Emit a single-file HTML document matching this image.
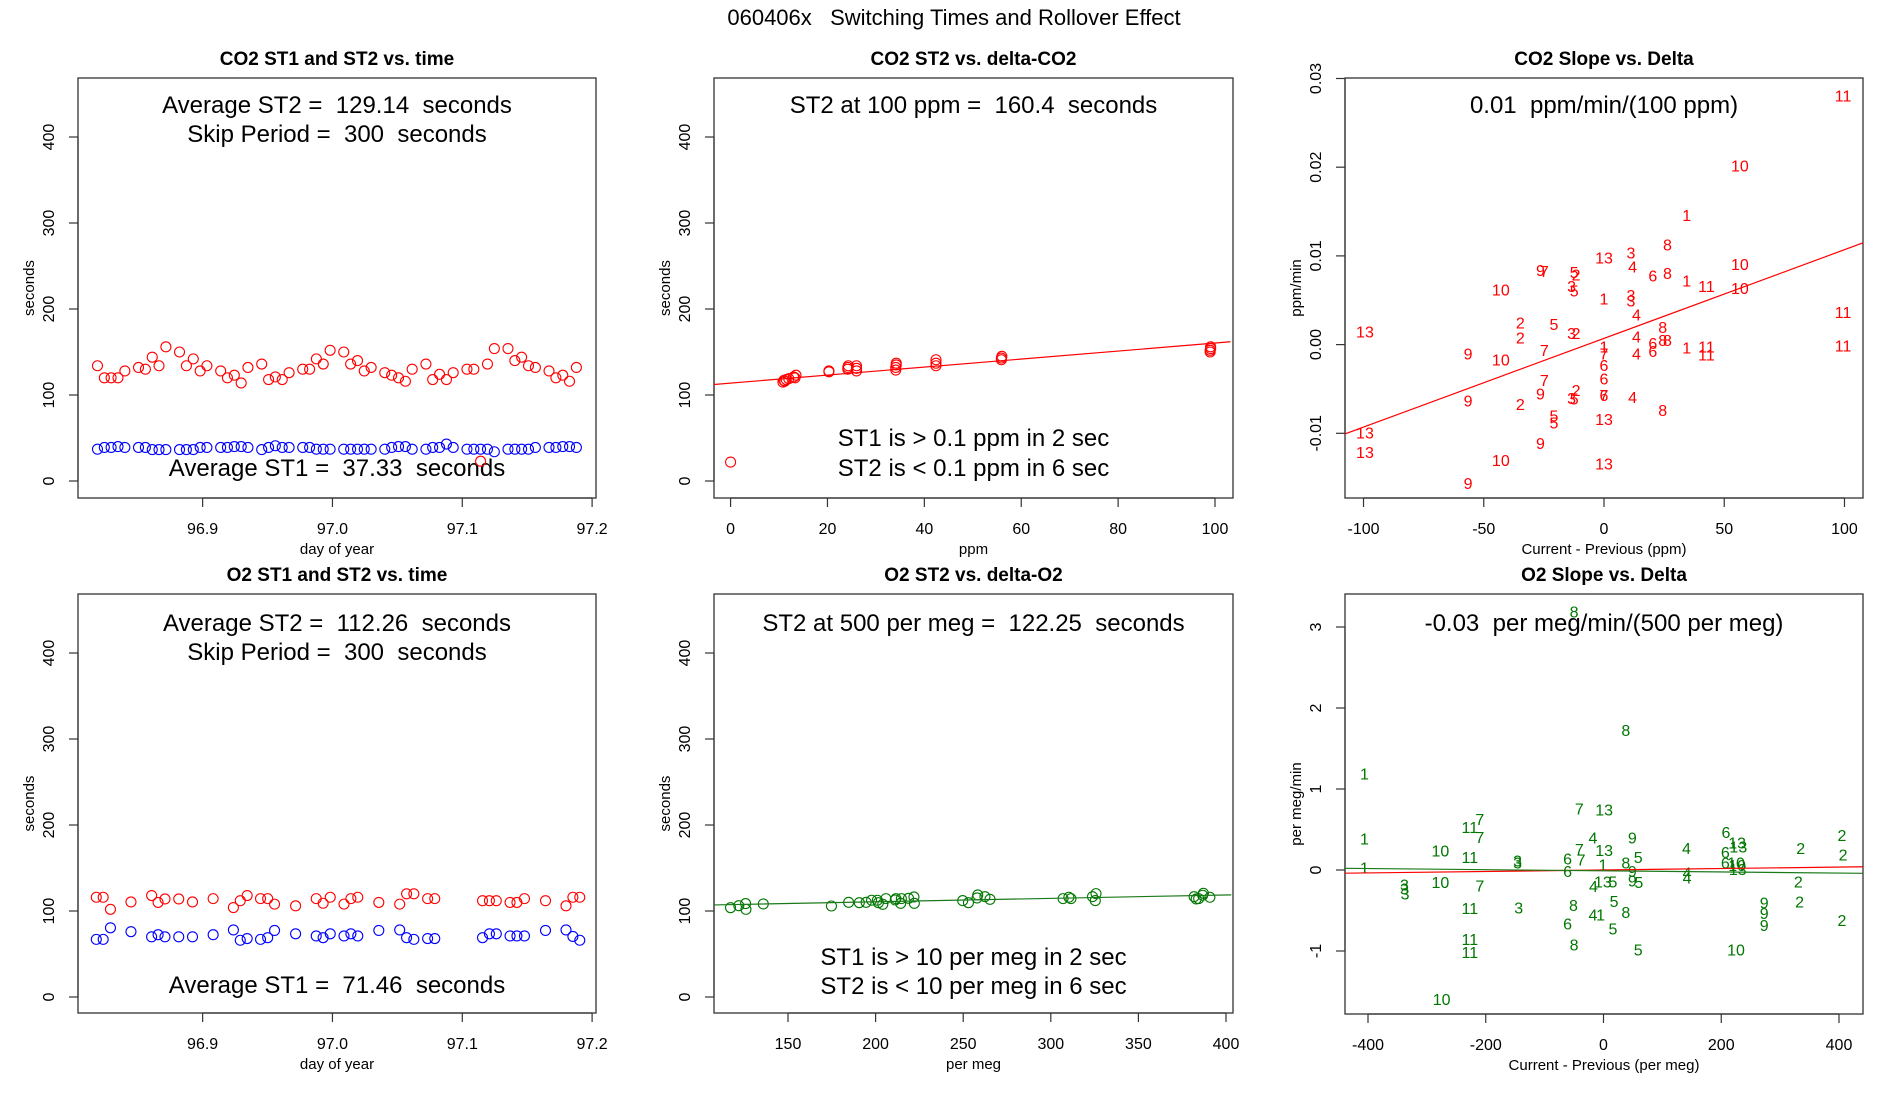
<!DOCTYPE html>
<html><head><meta charset="utf-8">
<style>
html,body{margin:0;padding:0;background:#fff;}
svg{display:block;font-family:"Liberation Sans",Arial,sans-serif;}
text{white-space:pre;}
</style></head>
<body>
<svg id="chart" width="1900" height="1100" viewBox="0 0 1900 1100" xmlns="http://www.w3.org/2000/svg">
<rect x="0" y="0" width="1900" height="1100" fill="#fff"/>
<text x="954" y="25" font-size="22" text-anchor="middle">060406x   Switching Times and Rollover Effect</text>
</svg>
<script>
// ---------- Panel 1: CO2 ST1/ST2 vs time ----------
const co2Days = [96.8190,96.8243,96.8295,96.8348,96.8401,96.8506,96.8559,96.8612,96.8664,96.8717,96.8822,96.8875,96.8928,96.8981,96.9033,96.9139,96.9191,96.9244,96.9297,96.9349,96.9455,96.9508,96.9560,96.9613,96.9666,96.9771,96.9824,96.9876,96.9929,96.9982,97.0087,97.0140,97.0193,97.0245,97.0298,97.0403,97.0456,97.0509,97.0562,97.0614,97.0720,97.0772,97.0825,97.0878,97.0930,97.1036,97.1089,97.1141,97.1194,97.1247,97.1352,97.1405,97.1457,97.1510,97.1563,97.1668,97.1721,97.1774,97.1826,97.1879];
const co2ST2 = [134,120,120,120,128,132,130,144,134,156,150,134,142,128,134,128,120,123,114,132,136,118,121,118,126,130,130,142,136,152,150,136,140,128,132,126,123,120,116,130,136,118,124,118,126,130,130,23,136,154,154,140,144,134,132,128,120,123,116,132];
const co2ST1 = [37,39,39,40,39,39,39,36.5,36.5,36.5,36.5,36.5,36.5,39,39,39,39,40,40,39,36.5,39,41,39,39,39,39,37,37,37,37,37,37,37,37,37,39,40,40,37,37,39,39,43,39,37,37,37,37,34,37,37,37,37,39,39,39,40,40,39];
// ---------- Panel 2: CO2 ST2 vs delta ----------
const co2Delta = [0,10.8,11.0,11.2,11.5,12.0,13.0,13.3,13.5,20.3,20.3,24.2,24.2,24.3,26.0,26.0,26.0,34.1,34.1,34.2,34.2,42.4,42.4,42.4,55.9,55.9,56.0,99.0,99.0,99.1,99.1];
const co2DeltaST2 = [22,115,117,116,118,119,121,120,123,127,128,130,132,134,128,131,134,129,132,135,137,134,137,141,141,143,145,150,152,154,156];
const co2LineCoef = [113.8,0.466];
// ---------- Panel 3: CO2 slope vs delta ----------
const co2SlopeLabels = ["11","10","1","8","3","13","4","9","7","5","2","6","8","10","1","11","10","3","5","10","1","3","3","4","2","5","13","8","3","2","2","4","6","8","8","1","11","1","6","7","7","4","11","11","11","9","10","6","6","7","2","9","3","5","6","7","4","9","2","8","5","5","13","13","9","13","10","13","9"];
const co2SlopeX = [99.4,56.5,34.4,26.4,11.2,0,11.9,-26.4,-24.8,-12.4,-11.6,20.3,26.4,56.5,34.4,42.6,56.5,-13.5,-12.4,-42.9,0,11.2,11.2,13.5,-34.8,-20.8,-99.4,24.4,-13.5,-11.6,-34.8,13.5,20.3,24.4,26.4,34.4,42.6,0,20.3,-24.8,0,13.5,42.6,99.4,99.4,-56.5,-42.9,0,0,-24.8,-11.6,-26.4,-13.5,-12.4,0,0,11.9,-56.5,-34.8,24.4,-20.8,-20.8,0,-99.4,-26.4,-99.4,-42.9,0,-56.5];
const co2SlopeY = [0.0281,0.0202,0.0146,0.0113,0.0104,0.0098,0.0088,0.0084,0.0083,0.0082,0.0079,0.0078,0.0081,0.0091,0.0072,0.0066,0.0064,0.0066,0.0061,0.0062,0.0052,0.0056,0.0050,0.0034,0.0025,0.0023,0.0015,0.0020,0.0013,0.0013,0.0008,0.0009,0.0002,0.0005,0.0005,-0.0003,-0.0002,-0.0002,-0.0007,-0.0006,-0.0010,-0.0010,-0.0011,-0.0001,0.0037,-0.0010,-0.0017,-0.0023,-0.0038,-0.0040,-0.0051,-0.0055,-0.0060,-0.0061,-0.0057,-0.0057,-0.0059,-0.0063,-0.0067,-0.0074,-0.0080,-0.0088,-0.0084,-0.0099,-0.0111,-0.0121,-0.0130,-0.0134,-0.0156];
const co2SlopeLine = [0.0007,0.0001];
// ---------- Panel 4: O2 ST1/ST2 vs time ----------
const o2Days = [96.8181,96.8234,96.8290,96.8448,96.8607,96.8657,96.8710,96.8816,96.8922,96.9081,96.9237,96.9290,96.9343,96.9446,96.9501,96.9554,96.9716,96.9875,96.9928,96.9983,97.0089,97.0142,97.0195,97.0357,97.0518,97.0571,97.0627,97.0733,97.0788,97.1156,97.1209,97.1262,97.1368,97.1421,97.1479,97.1641,97.1799,97.1852,97.1905];
const o2ST2 = [116,116,102,110.5,118,110,114,114,110.5,114.4,104,112,118,114.4,114.4,108,106,114.4,109,116,108,114.4,116,110,108,120,120,114.4,114.4,112,112,112,110,110,114.4,112,106,116,116];
const o2ST1 = [67,67,80.5,76,70,72.4,70,70,70,72.4,78,66,68,67,69,77.4,73.5,71,69,73.5,71,73.5,71,77.4,78,69,67,68,68,69,73.5,73.5,71,71,71,77.4,78,70.4,66];
// ---------- Panel 5: O2 ST2 vs delta ----------
const o2Delta = [117.2,121.9,125.8,126.0,135.9,174.8,184.6,190.7,194.6,197.7,201.0,201.6,204.1,205.9,211.2,211.6,214.3,214.7,218.8,221.9,222.1,249.7,253.0,257.9,258.3,262.4,265.3,307.0,310.3,311.5,323.8,325.4,325.8,381.8,383.0,384.4,386.7,387.1,390.8];
const o2DeltaST2 = [103.9,106.2,108.6,101.9,108.2,105.8,110.1,109.7,110.1,112.5,112.5,109.7,107.8,114.4,112.8,114.4,108.9,114.4,114.8,116.3,108.9,112.1,109.7,115.2,118.7,116.7,113.6,114.4,116.0,114.4,116.7,112.1,120.2,116.7,114.0,114.4,118.3,120.6,116.0];
const o2LineCoef = [102.8,0.0396];
// ---------- Panel 6: O2 slope vs delta ----------
const o2SlopeLabels = ["8","8","1","7","13","11","7","7","1","4","9","6","13","13","2","10","4","7","13","2","11","3","3","6","7","5","8","6","2","1","6","10","10","1","6","9","13","4","4","3","3","3","10","7","13","5","9","5","4","2","5","2","9","9","9","3","11","8","4","1","8","6","5","2","11","11","8","5","10","10"];
const o2SlopeX = [-50,38,-406,-41,1,-227,-210,-210,-406,-18,49,208,227,229,405,-277,141,-41,1,335,-227,-146,-146,-61,-38,59,38,207,407,-1,207,225,227,-406,-61,49,228,142,142,-338,-338,-337,-277,-210,-1,16,49,60,-17,331,18,333,273,273,273,-144,-227,-51,-18,-5,38,-61,16,405,-227,-227,-50,59,225,-275];
const o2SlopeY = [3.19,1.73,1.19,0.76,0.75,0.53,0.63,0.41,0.39,0.40,0.40,0.47,0.34,0.29,0.43,0.24,0.27,0.26,0.25,0.27,0.16,0.12,0.09,0.14,0.13,0.16,0.09,0.22,0.19,0.07,0.09,0.09,0.06,0.03,-0.01,-0.01,0.01,-0.03,-0.09,-0.18,-0.23,-0.29,-0.15,-0.19,-0.14,-0.14,-0.13,-0.15,-0.20,-0.14,-0.38,-0.39,-0.40,-0.53,-0.68,-0.46,-0.47,-0.43,-0.55,-0.55,-0.52,-0.66,-0.72,-0.62,-0.85,-1.01,-0.92,-0.98,-0.98,-1.59];
const o2RedLine = [0.0,0.00009];
const o2GreenLine = [-0.01,-0.00007];

const xTicks1 = [96.9,97.0,97.1,97.2];
const xTickLabels1 = ["96.9","97.0","97.1","97.2"];
const yTicksSec = [0,100,200,300,400];
const xTicks2 = [0,20,40,60,80,100];
const yTicks3 = [-0.01,0,0.01,0.02,0.03];
const yTickLabels3 = ["-0.01","0.00","0.01","0.02","0.03"];
const xTicks3 = [-100,-50,0,50,100];
const xTicks5 = [150,200,250,300,350,400];
const xTicks6 = [-400,-200,0,200,400];
const yTicks6 = [-1,0,1,2,3];

const NS = "http://www.w3.org/2000/svg";
const svg = document.getElementById("chart");
function mk(tag, attrs, parent, txt){
  const e = document.createElementNS(NS, tag);
  for (const k in attrs) e.setAttribute(k, attrs[k]);
  if (txt !== undefined) e.textContent = txt;
  (parent || svg).appendChild(e);
  return e;
}
function lin(d0,d1,r0,r1){ return v => r0 + (v-d0)/(d1-d0)*(r1-r0); }

function panel(cfg){
  const g = mk("g", {});
  
  
  const {L,R,T,B} = cfg;
  const sx = lin(cfg.xd[0],cfg.xd[1],cfg.xr[0],cfg.xr[1]);
  const sy = lin(cfg.yd[0],cfg.yd[1],cfg.yr[0],cfg.yr[1]);
  const t = mk("text",{x:(L+R)/2,y:T-13,"font-size":19,"font-weight":"bold","text-anchor":"middle"},g,cfg.title);
  
  
  const box = mk("rect",{x:L,y:T,width:R-L,height:B-T,fill:"none",stroke:"#333","stroke-width":1.3},g);
  
  
  const xa = mk("g",{},g);
  
  
  const xt = cfg.xt;
  mk("line",{x1:sx(xt[0]),x2:sx(xt[xt.length-1]),y1:B,y2:B,stroke:"#333","stroke-width":1.2},xa);
  xt.forEach((v,i)=>{
    const x = sx(v);
    mk("line",{x1:x,x2:x,y1:B,y2:B+9,stroke:"#333","stroke-width":1.2},xa);
    const lb = mk("text",{x:x,y:B+36,"font-size":16,"text-anchor":"middle"},xa,cfg.xtl ? cfg.xtl[i] : String(v));
    
    
  });
  if (cfg.xlab){
    const xl = mk("text",{x:(L+R)/2,y:B+56,"font-size":15,"text-anchor":"middle"},xa,cfg.xlab);
    
    
  }
  const ya = mk("g",{},g);
  
  
  const yt = cfg.yt;
  mk("line",{x1:L,x2:L,y1:sy(yt[0]),y2:sy(yt[yt.length-1]),stroke:"#333","stroke-width":1.2},ya);
  yt.forEach((v,i)=>{
    const y = sy(v);
    mk("line",{x1:L,x2:L-9,y1:y,y2:y,stroke:"#333","stroke-width":1.2},ya);
    const lb = mk("text",{x:L-24,y:y,"font-size":16,"text-anchor":"middle",transform:`rotate(-90 ${L-24} ${y})`},ya,cfg.ytl ? cfg.ytl[i] : String(v));
    
    
  });
  const yl = mk("text",{x:L-44,y:(T+B)/2,"font-size":15,"text-anchor":"middle",transform:`rotate(-90 ${L-44} ${(T+B)/2})`},ya,cfg.ylab);
  
  
  (cfg.notes||[]).forEach(n=>{
    const a = mk("text",{x:(L+R)/2,y:n[1]+8,"font-size":24,"text-anchor":"middle"},g,n[0]);
    
    
  });
  const clip = "clip-"+cfg.name;
  const cp = mk("clipPath",{id:clip},g);
  mk("rect",{x:L,y:T,width:R-L,height:B-T},cp);
  const marks = mk("g",{"clip-path":`url(#${clip})`},g);
  
  
  return {g:marks,sx,sy,L,R,T,B,xd:cfg.xd};
}
function circles(p, xs, ys, color, name){
  xs.forEach((x,i)=>{
    const c = mk("circle",{cx:p.sx(x),cy:p.sy(ys[i]),r:5,fill:"none",stroke:color,"stroke-width":1.1},p.g);
    
    
  });
}
function labels(p, xs, ys, txt, color, name){
  xs.forEach((x,i)=>{
    const t = mk("text",{x:p.sx(x),y:p.sy(ys[i])+6,"font-size":16,fill:color,"text-anchor":"middle"},p.g,txt[i]);
    
    
  });
}
function fitLine(p, coef, color, name){
  const x0 = p.xd[0], x1 = p.xd[1];
  const l = mk("line",{x1:p.sx(x0),y1:p.sy(coef[0]+coef[1]*x0),x2:p.sx(x1),y2:p.sy(coef[0]+coef[1]*x1),stroke:color,"stroke-width":1.2},p.g);
  
  
}

const p1 = panel({name:"co2-time-panel",title:"CO2 ST1 and ST2 vs. time",L:78,R:596,T:78,B:498,
  xd:[96.804,97.203],xr:[78,596],yd:[0,400],yr:[481,137],xt:xTicks1,xtl:xTickLabels1,yt:yTicksSec,
  xlab:"day of year",ylab:"seconds",
  notes:[["Average ST2 =  129.14  seconds",105],["Skip Period =  300  seconds",134],["Average ST1 =  37.33  seconds",468]]});
circles(p1, co2Days, co2ST2, "#ff0000", "st2-point");
circles(p1, co2Days, co2ST1, "#0000ff", "st1-point");
const p2 = panel({name:"co2-delta-panel",title:"CO2 ST2 vs. delta-CO2",L:714,R:1233,T:78,B:498,
  xd:[-4,103.2],xr:[711.2,1230.5],yd:[0,400],yr:[481,137],xt:xTicks2,yt:yTicksSec,
  xlab:"ppm",ylab:"seconds",
  notes:[["ST2 at 100 ppm =  160.4  seconds",105],["ST1 is > 0.1 ppm in 2 sec",438],["ST2 is < 0.1 ppm in 6 sec",468]]});
circles(p2, co2Delta, co2DeltaST2, "#ff0000", "st2-point");
fitLine(p2, co2LineCoef, "#ff0000", "fit-line");
const p3 = panel({name:"co2-slope-panel",title:"CO2 Slope vs. Delta",L:1345,R:1863,T:78,B:498,
  xd:[-107.7,107.7],xr:[1345,1863],yd:[0,0.01],yr:[344.6,255.9],xt:xTicks3,yt:yTicks3,ytl:yTickLabels3,
  xlab:"Current - Previous (ppm)",ylab:"ppm/min",
  notes:[["0.01  ppm/min/(100 ppm)",105]]});
labels(p3, co2SlopeX, co2SlopeY, co2SlopeLabels, "#ff0000", "slope-label");
fitLine(p3, co2SlopeLine, "#ff0000", "fit-line");
const p4 = panel({name:"o2-time-panel",title:"O2 ST1 and ST2 vs. time",L:78,R:596,T:594,B:1013,
  xd:[96.804,97.203],xr:[78,596],yd:[0,400],yr:[997,653],xt:xTicks1,xtl:xTickLabels1,yt:yTicksSec,
  xlab:"day of year",ylab:"seconds",
  notes:[["Average ST2 =  112.26  seconds",623],["Skip Period =  300  seconds",652],["Average ST1 =  71.46  seconds",985]]});
circles(p4, o2Days, o2ST2, "#ff0000", "st2-point");
circles(p4, o2Days, o2ST1, "#0000ff", "st1-point");
const p5 = panel({name:"o2-delta-panel",title:"O2 ST2 vs. delta-O2",L:714,R:1233,T:594,B:1013,
  xd:[150,400],xr:[788,1226],yd:[0,400],yr:[997,653],xt:xTicks5,yt:yTicksSec,
  xlab:"per meg",ylab:"seconds",
  notes:[["ST2 at 500 per meg =  122.25  seconds",623],["ST1 is > 10 per meg in 2 sec",957],["ST2 is < 10 per meg in 6 sec",986]]});
p5.xd = [106,403];
circles(p5, o2Delta, o2DeltaST2, "#007700", "st2-point");
fitLine(p5, o2LineCoef, "#1a7a1a", "fit-line");
const p6 = panel({name:"o2-slope-panel",title:"O2 Slope vs. Delta",L:1345,R:1863,T:594,B:1014,
  xd:[-400,400],xr:[1368,1839],yd:[0,3],yr:[870,627],xt:xTicks6,yt:yTicks6,
  xlab:"Current - Previous (per meg)",ylab:"per meg/min",
  notes:[["-0.03  per meg/min/(500 per meg)",623]]});
p6.xd = [-445,445];
labels(p6, o2SlopeX, o2SlopeY, o2SlopeLabels, "#007700", "slope-label");
fitLine(p6, o2RedLine, "#ff0000", "fit-line-red");
fitLine(p6, o2GreenLine, "#1a7a1a", "fit-line-green");
</script>
</body></html>
